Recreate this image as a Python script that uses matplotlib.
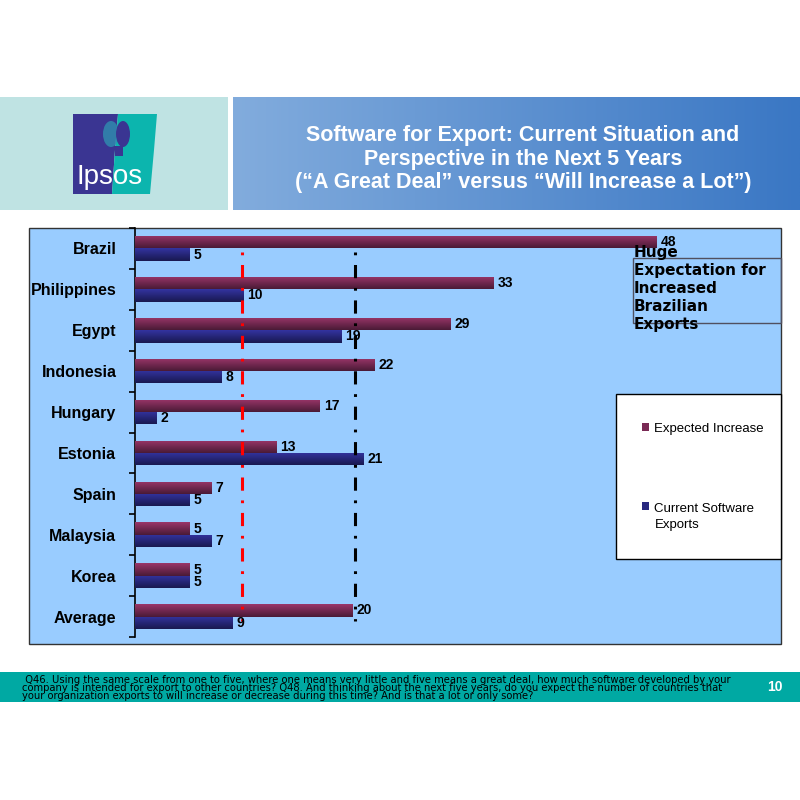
import numpy as np
import matplotlib
matplotlib.use('Agg')
import matplotlib.pyplot as plt
import matplotlib.patches as patches
from matplotlib.colors import LinearSegmentedColormap

plt.rcParams['lines.scale_dashes'] = False

# data
countries = ['Brazil', 'Philippines', 'Egypt', 'Indonesia', 'Hungary',
             'Estonia', 'Spain', 'Malaysia', 'Korea', 'Average']
expected = [48, 33, 29, 22, 17, 13, 7, 5, 5, 20]
current = [5, 10, 19, 8, 2, 21, 5, 7, 5, 9]
red_line = 9.9
black_line = 20.3

title = ("Software for Export: Current Situation and\n"
         "Perspective in the Next 5 Years\n"
         "(\u201cA Great Deal\u201d versus \u201cWill Increase a Lot\u201d)")
note = ("Huge\nExpectation for\nIncreased\nBrazilian\nExports")
footer = (" Q46. Using the same scale from one to five, where one means very little and five means a great deal, how much software developed by your\n"
          "company is intended for export to other countries? Q48. And thinking about the next five years, do you expect the number of countries that\n"
          "your organization exports to will increase or decrease during this time? And is that a lot or only some?")
page = "10"

W, H = 800.0, 800.0
def fx(x):
    return x / W
def fy(y):
    return 1 - y / H

fig = plt.figure(figsize=(8, 8), dpi=100, facecolor='w')

# ---- header band
fig.patches.append(patches.Rectangle((0, fy(210)), fx(228), 113 / H, transform=fig.transFigure,
                                     facecolor='#BFE3E3', edgecolor='none', zorder=-2))
axh = fig.add_axes([fx(233), fy(210), (W - 233) / W, 113 / H])
grad = np.linspace(0, 1, 256).reshape(1, -1)
hcmap = LinearSegmentedColormap.from_list('hdr', ['#82ACDD', '#3A77C4'])
axh.imshow(grad, aspect='auto', cmap=hcmap, extent=(0, 1, 0, 1))
axh.axis('off')
fig.text(fx(523), fy(159), title, ha='center', va='center', color='white',
         fontsize=15.5, fontweight='bold', family='Liberation Sans', linespacing=1.14)

# ---- logo
axl = fig.add_axes([fx(73), fy(194), 85 / W, 81 / H])
axl.set_xlim(73, 158)
axl.set_ylim(194, 113)
axl.axis('off')
axl.add_patch(patches.Polygon([(73, 114), (118, 114), (115, 150), (112, 194), (73, 194)],
                              closed=True, facecolor='#3A3592', edgecolor='none'))
axl.add_patch(patches.Polygon([(118, 114), (157, 114), (154, 150), (150, 194), (112, 194), (115, 150)],
                              closed=True, facecolor='#0CB5AE', edgecolor='none'))
axl.add_patch(patches.Ellipse((111, 134), 16, 26, facecolor='#2F8FB0', edgecolor='none', alpha=0.8))
axl.add_patch(patches.Ellipse((123, 134), 14, 26, facecolor='#3A3592', edgecolor='none'))
axl.add_patch(patches.Rectangle((115, 146), 8, 10, facecolor='#3A3592', edgecolor='none'))
axl.text(110, 177, 'Ipsos', ha='center', va='center', color='white', fontsize=20,
         family='Liberation Sans')

# ---- plot area background
fig.patches.append(patches.Rectangle((fx(29), fy(644)), 752 / W, 416 / H, transform=fig.transFigure,
                                     facecolor='#99CCFF', edgecolor='#333333', linewidth=1, zorder=-2))
# legend box sits on the background, under the axes
fig.patches.append(patches.Rectangle((fx(616), fy(559)), 165 / W, 165 / H, transform=fig.transFigure,
                                     facecolor='white', edgecolor='black', linewidth=1, zorder=-1))

ax = fig.add_axes([fx(134.5), fy(637), (781 - 134.5) / W, (637 - 228) / H])
ax.set_facecolor('none')
y = np.arange(len(countries))
bh = 0.3
b_exp = ax.barh(y - bh / 2, expected, height=bh, color='#7A2A55', label='Expected Increase', zorder=2)
b_cur = ax.barh(y + bh / 2, current, height=bh, color='#28287F', label='Current Software\nExports', zorder=2)

cm_exp = LinearSegmentedColormap.from_list('e', ['#9A3669', '#4A1A36'])
cm_cur = LinearSegmentedColormap.from_list('c', ['#3333A0', '#191950'])
vgrad = np.linspace(0, 1, 64).reshape(-1, 1)
for bars, cmap in ((b_exp, cm_exp), (b_cur, cm_cur)):
    for r in bars:
        x0, y0 = r.get_x(), r.get_y()
        im = ax.imshow(vgrad, aspect='auto', cmap=cmap, zorder=3,
                       extent=(x0, x0 + r.get_width(), y0 + r.get_height(), y0))
        im.set_clip_path(r)

ax.set_xlim(0, (781 - 134.5) / 10.875)
ax.set_ylim(len(countries) - 0.5, -0.5)

for v, yy in zip(expected, y - bh / 2):
    ax.text(v + 0.4, yy, str(v), va='center', ha='left', fontsize=10, fontweight='bold',
            family='Liberation Sans', zorder=5)
for v, yy in zip(current, y + bh / 2):
    ax.text(v + 0.4, yy, str(v), va='center', ha='left', fontsize=10, fontweight='bold',
            family='Liberation Sans', zorder=5)

dash = (0, (2, 7, 9.5, 7))
ax.vlines(red_line, 0.09, 9.1, colors='#FF0000', linewidth=2.2, linestyles=[dash], zorder=4)
ax.vlines(black_line, 0.09, 9.1, colors='black', linewidth=2.2, linestyles=[dash], zorder=4)

for s in ('top', 'right', 'bottom'):
    ax.spines[s].set_visible(False)
ax.spines['left'].set_linewidth(1.2)
ax.set_xticks([])
ax.set_yticks(y)
ax.set_yticklabels(countries, fontsize=11.5, fontweight='bold', family='Liberation Sans')
ax.set_yticks(np.arange(-0.5, len(countries)), minor=True)
ax.tick_params(axis='y', which='major', length=0, pad=13)
ax.tick_params(axis='y', which='minor', length=4, width=1.2, direction='out')

# ---- annotation
fig.text(fx(634), fy(245), note, ha='left', va='top', fontsize=11, fontweight='bold',
         family='DejaVu Sans', linespacing=1.24, zorder=6)
fig.patches.append(patches.Rectangle((fx(633), fy(323)), 148 / W, 65 / H, transform=fig.transFigure,
                                     facecolor='none', edgecolor='#505060', linewidth=1, zorder=5))

# ---- legend
leg = ax.legend(handles=[b_exp, b_cur], loc='upper left', bbox_to_anchor=(fx(630), fy(411)),
                bbox_transform=fig.transFigure, frameon=False,
                handlelength=0.55, handleheight=0.55, handletextpad=0.4, labelspacing=5.2,
                prop={'family': 'Liberation Sans', 'size': 9.5})
leg.set_zorder(7)
leg.get_texts()[1].set_linespacing(1.35)
h2 = leg.legend_handles[1]
h2.set_y(h2.get_y() + 8)

# ---- footer
fig.patches.append(patches.Rectangle((0, fy(702)), 1, 30 / H, transform=fig.transFigure,
                                     facecolor='#00A9A3', edgecolor='none', zorder=-2))
fig.text(fx(22), fy(688), footer, ha='left', va='center', fontsize=8,
         family='DejaVu Sans', fontstretch='condensed', linespacing=0.72)
fig.text(fx(775), fy(687), page, ha='center', va='center', color='white', fontsize=10,
         fontweight='bold', family='Liberation Sans')

fig.savefig('out.png', dpi=100, facecolor='w')
